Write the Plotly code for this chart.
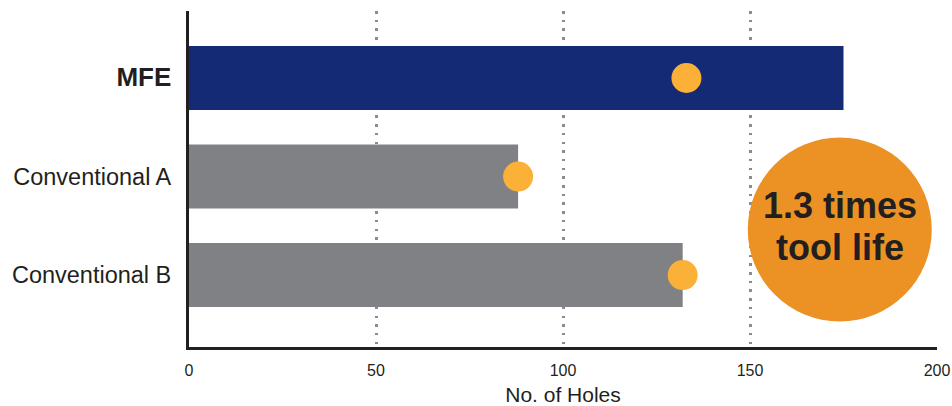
import plotly.graph_objects as go

categories = ["MFE", "Conventional A", "Conventional B"]
tick_text = ['<span style="font-size:26px"><b>MFE</b></span>', "Conventional A", "Conventional B"]
bar_values = [175, 88, 132]
dot_values = [133, 88, 132]
bar_colors = ["#152A74", "#808184", "#808184"]
x_ticks = [0, 50, 100, 150, 200]
badge_lines = ["1.3 times", "tool life"]
badge_pos = (174.0, 1.538)

FONT = "Liberation Sans, Arial, sans-serif"

fig = go.Figure()
fig.add_trace(go.Bar(
    x=bar_values, y=categories, orientation="h",
    marker=dict(color=bar_colors, line=dict(width=0)),
    width=0.65, hoverinfo="skip", showlegend=False,
))
fig.add_trace(go.Scatter(
    x=dot_values, y=categories, mode="markers",
    marker=dict(size=30, color="#FBB138", line=dict(width=0)),
    hoverinfo="skip", showlegend=False,
))

# orange badge circle
fig.add_shape(
    type="circle", xref="x", yref="y",
    xsizemode="pixel", ysizemode="pixel",
    xanchor=badge_pos[0], yanchor=badge_pos[1],
    x0=-92, x1=92, y0=-92, y1=92,
    fillcolor="#EC9123", line=dict(width=0), layer="above",
)
for txt, shift in zip(badge_lines, [24.5, -17.5]):
    fig.add_annotation(
        x=badge_pos[0], y=badge_pos[1], xref="x", yref="y",
        text=f"<b>{txt}</b>", showarrow=False, yshift=shift,
        font=dict(family=FONT, size=36, color="#231F20"),
    )

fig.update_layout(
    width=952, height=406,
    margin=dict(l=189, r=15, t=11, b=59, autoexpand=False),
    paper_bgcolor="white", plot_bgcolor="white",
    bargap=0.35,
    font=dict(family=FONT, color="#231F20"),
    xaxis=dict(
        range=[0, 200], tickvals=x_ticks, ticktext=[str(v) for v in x_ticks],
        showgrid=True, gridcolor="#8A8B8E", gridwidth=2.5, griddash="2.5px,6.2px",
        zeroline=False, showline=True, linecolor="#231F20", linewidth=3,
        ticks="", tickfont=dict(size=16, family=FONT, color="#231F20"),
        ticklabelstandoff=7, automargin=False,
        title=dict(text="No. of Holes", font=dict(size=21, family=FONT, color="#231F20"), standoff=10),
        fixedrange=True,
    ),
    yaxis=dict(
        type="category", categoryorder="array", categoryarray=categories,
        range=[2.73, -0.68], automargin=False,
        tickvals=categories, ticktext=tick_text,
        showgrid=False, zeroline=False, showline=True, linecolor="#231F20", linewidth=3,
        ticks="", ticklabelstandoff=10,
        tickfont=dict(size=23.5, family=FONT, color="#231F20"),
        fixedrange=True,
    ),
)

fig.write_html("out.html")
